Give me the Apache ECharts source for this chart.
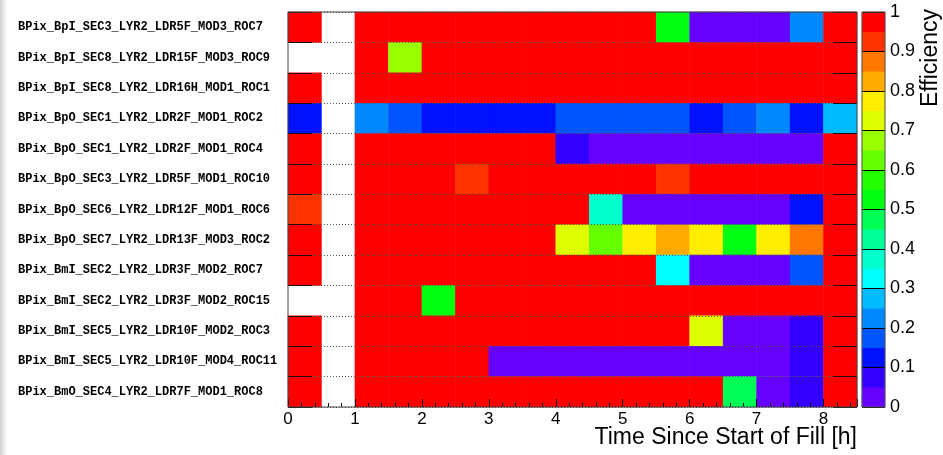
<!DOCTYPE html>
<html>
<head>
<meta charset="utf-8">
<script src="https://cdn.jsdelivr.net/npm/echarts@6/dist/echarts.min.js"></script>
<style>
html,body{margin:0;padding:0;background:#fff;}
#chart{width:943px;height:455px;}
</style>
</head>
<body>
<div id="chart"></div>
<script>
// ---- data ----
const rowLabels = [
  'BPix_BpI_SEC3_LYR2_LDR5F_MOD3_ROC7',
  'BPix_BpI_SEC8_LYR2_LDR15F_MOD3_ROC9',
  'BPix_BpI_SEC8_LYR2_LDR16H_MOD1_ROC1',
  'BPix_BpO_SEC1_LYR2_LDR2F_MOD1_ROC2',
  'BPix_BpO_SEC1_LYR2_LDR2F_MOD1_ROC4',
  'BPix_BpO_SEC3_LYR2_LDR5F_MOD1_ROC10',
  'BPix_BpO_SEC6_LYR2_LDR12F_MOD1_ROC6',
  'BPix_BpO_SEC7_LYR2_LDR13F_MOD3_ROC2',
  'BPix_BmI_SEC2_LYR2_LDR3F_MOD2_ROC7',
  'BPix_BmI_SEC2_LYR2_LDR3F_MOD2_ROC15',
  'BPix_BmI_SEC5_LYR2_LDR10F_MOD2_ROC3',
  'BPix_BmI_SEC5_LYR2_LDR10F_MOD4_ROC11',
  'BPix_BmO_SEC4_LYR2_LDR7F_MOD1_ROC8'
];
// time bins (lower edge, hours)
const timeBins = ['0','0.5','1','1.5','2','2.5','3','3.5','4','4.5','5','5.5','6','6.5','7','7.5','8'];
const _ = null;
// efficiency per row (top to bottom), per time bin
const effRow1  = [0.99,_,0.99,0.99,0.99,0.99,0.99,0.99,0.99,0.99,0.99,0.53,0.02,0.02,0.02,0.22,0.99];
const effRow2  = [_,_,0.99,0.67,0.99,0.99,0.99,0.99,0.99,0.99,0.99,0.99,0.99,0.99,0.99,0.99,0.99];
const effRow3  = [0.99,_,0.99,0.99,0.99,0.99,0.99,0.99,0.99,0.99,0.99,0.99,0.99,0.99,0.99,0.99,0.99];
const effRow4  = [0.12,_,0.22,0.17,0.12,0.12,0.12,0.12,0.17,0.17,0.17,0.17,0.12,0.17,0.22,0.12,0.27];
const effRow5  = [0.99,_,0.99,0.99,0.99,0.99,0.99,0.99,0.07,0.02,0.02,0.02,0.02,0.02,0.02,0.02,0.99];
const effRow6  = [0.99,_,0.99,0.99,0.99,0.93,0.99,0.99,0.99,0.99,0.99,0.93,0.99,0.99,0.99,0.99,0.99];
const effRow7  = [0.93,_,0.99,0.99,0.99,0.99,0.99,0.99,0.99,0.37,0.02,0.02,0.02,0.02,0.02,0.12,0.99];
const effRow8  = [0.99,_,0.99,0.99,0.99,0.99,0.99,0.99,0.72,0.62,0.77,0.82,0.78,0.53,0.77,0.87,0.99];
const effRow9  = [0.99,_,0.99,0.99,0.99,0.99,0.99,0.99,0.99,0.99,0.99,0.32,0.02,0.02,0.02,0.17,0.99];
const effRow10 = [_,_,0.99,0.99,0.52,0.99,0.99,0.99,0.99,0.99,0.99,0.99,0.99,0.99,0.99,0.99,0.99];
const effRow11 = [0.99,_,0.99,0.99,0.99,0.99,0.99,0.99,0.99,0.99,0.99,0.99,0.72,0.02,0.02,0.07,0.99];
const effRow12 = [0.99,_,0.99,0.99,0.99,0.99,0.02,0.02,0.02,0.02,0.02,0.02,0.02,0.02,0.02,0.07,0.99];
const effRow13 = [0.99,_,0.99,0.99,0.99,0.99,0.99,0.99,0.99,0.99,0.99,0.99,0.99,0.46,0.02,0.07,0.99];
const effRows = [effRow1,effRow2,effRow3,effRow4,effRow5,effRow6,effRow7,effRow8,effRow9,effRow10,effRow11,effRow12,effRow13];

// colour palette: 20 levels from 0 to 1
const palette = ['#6600ff','#3300ff','#0011ff','#0055ff','#0088ff','#00bbff','#00ffff','#00ffcc','#00ff99','#00ff55',
                 '#00ff11','#22ff00','#66ff00','#99ff00','#ddff00','#ffee00','#ffaa00','#ff7700','#ff3300','#ff0000'];
const xTickMax = 8.5;

// ---- build ----
const heatData = [];
effRows.forEach((row, yi) => row.forEach((v, xi) => { if (v !== null) heatData.push([xi, yi, v]); }));
const nLev = palette.length;
const levelCats = palette.map((c, i) => String(i));
const barData = palette.map((c, i) => [0, i, (i + 0.5) / nLev]);
const pieces = palette.map((c, i) => i === nLev - 1
  ? { gte: i / nLev, lte: 1.0001, color: c }
  : { gte: i / nLev, lt: (i + 1) / nLev, color: c });

const chart = echarts.init(document.getElementById('chart'), null, { renderer: 'canvas' });
const sans = 'Liberation Sans, Arial, sans-serif';
const gridTop = 12, gridBottom = 48;
chart.setOption({
  animation: false,
  backgroundColor: '#ffffff',
  grid: [
    { left: 288, right: 86, top: gridTop, bottom: gridBottom, show: true, z: 10,
      backgroundColor: 'transparent', borderColor: '#444', borderWidth: 1 },
    { left: 862, width: 23, top: gridTop, bottom: gridBottom, show: true, z: 10,
      backgroundColor: 'transparent', borderColor: '#555', borderWidth: 1 }
  ],
  xAxis: [
    { type: 'category', gridIndex: 0, data: timeBins, show: false },
    { type: 'value', gridIndex: 0, min: 0, max: xTickMax, interval: 1, position: 'bottom', z: 6,
      axisLine: { show: false },
      axisTick: { show: true, inside: true, length: 8, lineStyle: { color: '#000', width: 1 } },
      minorTick: { show: true, splitNumber: 5, length: 4, lineStyle: { color: '#000', width: 1 } },
      splitLine: { show: false },
      axisLabel: { show: true, margin: 4, fontFamily: sans, fontSize: 17, color: '#000',
        formatter: v => (Math.abs(v - Math.round(v)) < 1e-6 && v < xTickMax ? String(Math.round(v)) : '') } },
    { type: 'category', gridIndex: 1, data: [''], show: false }
  ],
  yAxis: [
    { type: 'category', gridIndex: 0, data: rowLabels, inverse: true, position: 'left', z: 6,
      axisLine: { show: false },
      axisTick: { show: true, inside: true, length: 24, interval: 0, lineStyle: { color: '#111', width: 1 } },
      splitLine: { show: true, interval: 0, lineStyle: { color: '#555', width: 1, type: [1, 2] } },
      axisLabel: { show: true, interval: 0, align: 'left', margin: 270, fontFamily: 'Liberation Mono, monospace',
        fontWeight: 'bold', fontSize: 12, color: '#000' } },
    { type: 'category', gridIndex: 0, data: rowLabels, inverse: true, position: 'right', z: 6,
      axisLine: { show: false },
      axisTick: { show: true, inside: true, length: 24, interval: 0, lineStyle: { color: '#111', width: 1 } },
      splitLine: { show: false }, axisLabel: { show: false } },
    { type: 'category', gridIndex: 1, data: levelCats, show: false },
    { type: 'value', gridIndex: 1, min: 0, max: 1, interval: 0.1, position: 'right', z: 6,
      axisLine: { show: false },
      axisTick: { show: true, inside: true, length: 23, lineStyle: { color: '#000', width: 1 } },
      splitLine: { show: false },
      axisLabel: { show: true, margin: 5, fontFamily: sans, fontSize: 18, color: '#000' } }
  ],
  visualMap: {
    type: 'piecewise', show: false, dimension: 2, seriesIndex: [0, 1], pieces: pieces
  },
  series: [
    { type: 'heatmap', xAxisIndex: 0, yAxisIndex: 0, data: heatData, z: 2, emphasis: { disabled: true } },
    { type: 'heatmap', xAxisIndex: 2, yAxisIndex: 2, data: barData, z: 2, emphasis: { disabled: true } }
  ],
  graphic: [
    { type: 'rect', left: 0, top: 0, z: -1, shape: { width: 7, height: 455 },
      style: { fill: new echarts.graphic.LinearGradient(0, 0, 1, 0, [
        { offset: 0, color: '#cfcfcf' }, { offset: 1, color: '#ffffff' }]) } },
    { type: 'text', right: 86, top: 426, z: 20,
      style: { text: 'Time Since Start of Fill [h]', font: '23px Liberation Sans, Arial, sans-serif', fill: '#000' } },
    { type: 'text', x: 931, y: 9, rotation: Math.PI / 2, z: 20,
      style: { text: 'Efficiency', font: '23px Liberation Sans, Arial, sans-serif', fill: '#000',
        align: 'right', verticalAlign: 'middle' } }
  ]
});
</script>
</body>
</html>
